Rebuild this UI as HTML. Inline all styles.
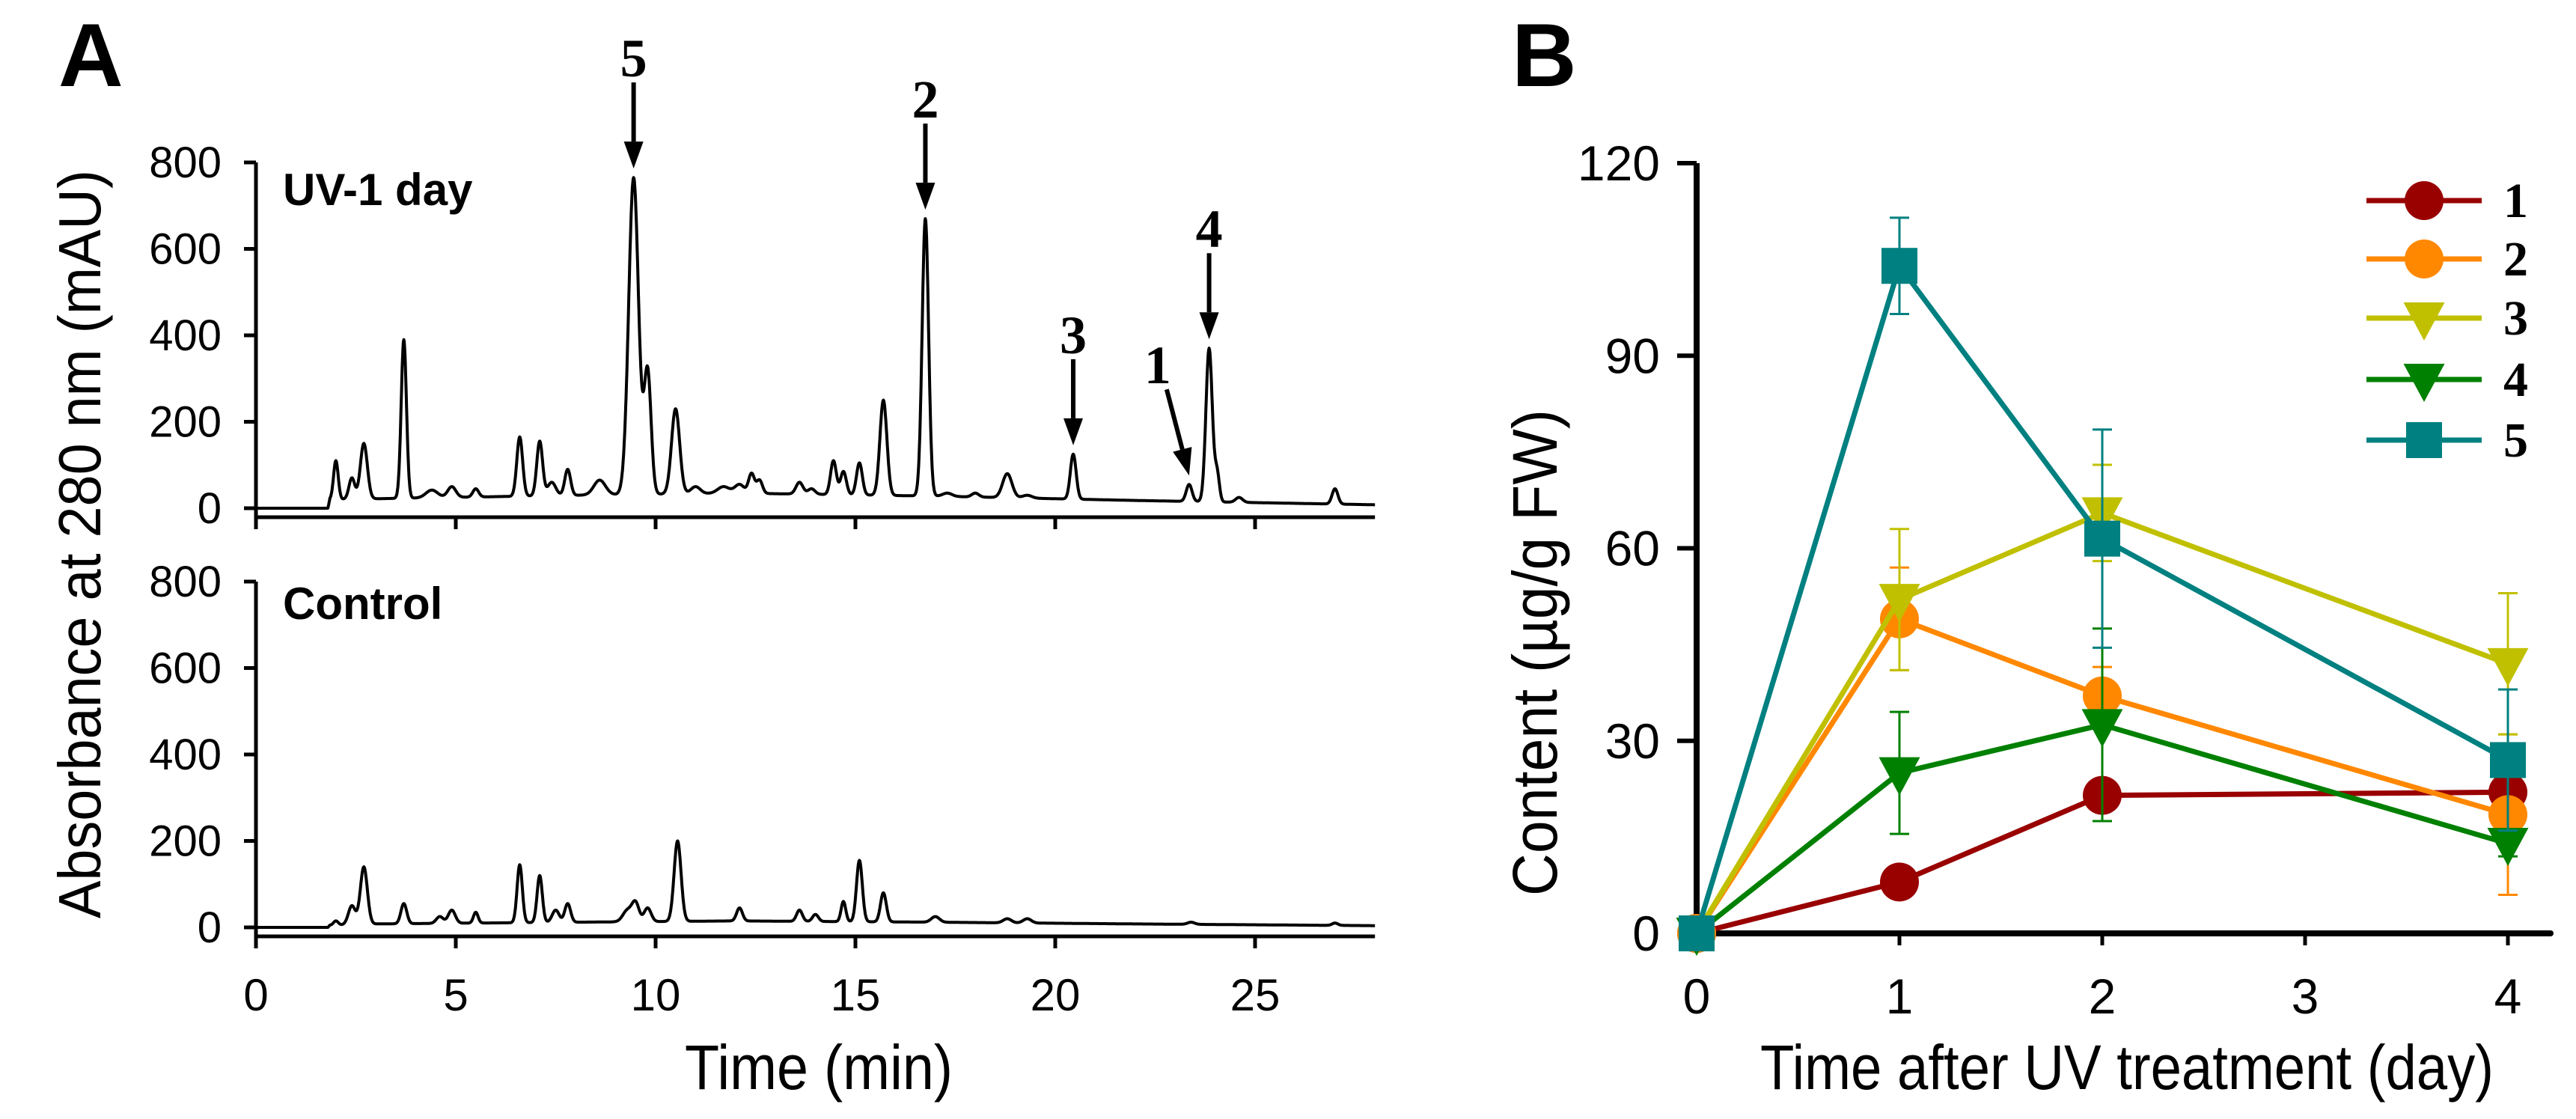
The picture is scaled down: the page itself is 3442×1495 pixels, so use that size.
<!DOCTYPE html>
<html><head><meta charset="utf-8"><style>
html,body{margin:0;padding:0;background:#fff}
svg{display:block}
text{font-family:"Liberation Sans",sans-serif}
.serif{font-family:"Liberation Serif",serif;font-weight:bold}
</style></head><body>
<svg id="fig" width="3442" height="1495" viewBox="0 0 3442 1495" xmlns="http://www.w3.org/2000/svg">
<g id="panelA"></g>
<g id="panelB"></g>
</svg>
<script>
// ---------- Panel A data ----------
const timeTicks = [0,5,10,15,20,25];
const absTicks = [0,200,400,600,800];
const uvPeakTimes   = [2.0,2.4,2.7,3.7,4.4,4.9,5.5,6.6,7.1,7.4,7.8,8.6,9.45,9.8,10.5,11.0,11.7,12.1,12.4,12.6,13.6,13.9,14.45,14.7,15.1,15.7,16.75,17.3,18.0,18.8,19.3,20.45,23.35,23.85,24.05,24.6,27.0];
const uvPeakHeights = [110,70,150,390,42,50,45,165,155,60,90,65,765,315,230,50,50,55,80,65,60,45,110,85,105,250,670,35,35,80,30,125,55,370,80,25,45];
const uvPeakWidths  = [0.04,0.05,0.06,0.045,0.1,0.07,0.05,0.05,0.05,0.07,0.05,0.1,0.085,0.06,0.07,0.08,0.1,0.08,0.05,0.05,0.06,0.06,0.05,0.05,0.05,0.06,0.055,0.08,0.06,0.08,0.08,0.05,0.05,0.055,0.04,0.06,0.05];
const uvBaseT = [0,1.8,1.85,3,8,12,17,22,28];
const uvBaseV = [0,0,20,22,30,35,28,18,8];
const ctPeakTimes   = [2.0,2.4,2.7,3.7,4.6,4.9,5.5,6.6,7.1,7.5,7.8,9.3,9.5,9.8,10.55,12.1,13.6,14.0,14.7,15.1,15.7,17.0,18.8,19.3,23.4,27.0];
const ctPeakHeights = [15,50,140,55,25,40,35,145,120,40,55,40,55,45,200,45,40,30,60,155,80,25,20,20,12,10];
const ctPeakWidths  = [0.04,0.06,0.06,0.05,0.06,0.06,0.04,0.045,0.045,0.06,0.05,0.08,0.06,0.06,0.06,0.05,0.05,0.05,0.04,0.05,0.05,0.07,0.07,0.07,0.06,0.05];
const ctBaseT = [0,1.8,1.85,3,8,12,17,22,28];
const ctBaseV = [0,0,5,8,12,15,12,8,4];
const arrowLabels = ["5","2","3","1","4"];
const arrowTimes  = [9.45,16.75,20.45,23.35,23.85];

// ---------- Panel B data ----------
const days = [0,1,2,4];
const dayTicks = [0,1,2,3,4];
const contentTicks = [0,30,60,90,120];
const seriesNames = ["1","2","3","4","5"];
const s1 = [0,8,21.5,22];
const s2 = [0,49,37,18.5];
const s3 = [0,52,65.5,42];
const s4 = [0,25,32.5,14];
const s5 = [0,104,61.5,27];
const e1 = [0,1,1.5,1];
const e2 = [0,8,4.5,12.5];
const e3 = [0,11,7.5,11];
const e4 = [0,9.5,15,2];
const e5 = [0,7.5,17,11];

const NS = "http://www.w3.org/2000/svg";
const WIDTH_SCALE = 1.45;
function mk(parent, tag, attrs, txt){
  const el = document.createElementNS(NS, tag);
  for (const k in attrs) el.setAttribute(k, attrs[k]);
  if (txt !== undefined) el.textContent = txt;
  parent.appendChild(el);
  return el;
}
const A = document.getElementById('panelA');
const B = document.getElementById('panelB');

const ax0 = 342, pxPerMin = 53.4;
const xA = t => ax0 + t * pxPerMin;
const topZero = 679, botZero = 1239, pxPerMAU = 462/800;
const yTop = v => topZero - v * pxPerMAU;
const yBot = v => botZero - v * pxPerMAU;

function interp(ts, vs, t){
  for (let i=0;i<ts.length-1;i++){
    if (t>=ts[i] && t<=ts[i+1]) return vs[i] + (vs[i+1]-vs[i])*(t-ts[i])/(ts[i+1]-ts[i]);
  }
  return vs[vs.length-1];
}
function signal(pT,pH,pW,bT,bV,t){
  let v = interp(bT,bV,t);
  for (let i=0;i<pT.length;i++){
    const amp = pH[i] - interp(bT,bV,pT[i]);
    const s = pW[i]*WIDTH_SCALE;
    v += amp*Math.exp(-Math.pow(t-pT[i],2)/(2*s*s));
  }
  return v;
}
function trace(pT, pH, pW, bT, bV, yf){
  let d = "";
  for (let t=0; t<=28.0001; t+=0.01){
    const v = signal(pT,pH,pW,bT,bV,t);
    d += (d?"L":"M") + xA(t).toFixed(1) + "," + yf(v).toFixed(1);
  }
  return d;
}

function panelAxes(yf, axisY, name){
  const g = mk(A,'g',{});
  
  
  const yl = mk(g,'line',{x1:ax0,y1:yf(800),x2:ax0,y2:axisY+16,stroke:'#000','stroke-width':5});
  
  
  const xl = mk(g,'line',{x1:ax0,y1:axisY,x2:xA(28),y2:axisY,stroke:'#000','stroke-width':5});
  
  
  absTicks.forEach(v=>{
    const tk = mk(g,'line',{x1:ax0-16,y1:yf(v),x2:ax0,y2:yf(v),stroke:'#000','stroke-width':5});
    
    
    const lb = mk(g,'text',{x:296,y:yf(v)+20,'font-size':58,'text-anchor':'end'},String(v));
    
    
  });
  timeTicks.forEach(t=>{
    const tk = mk(g,'line',{x1:xA(t),y1:axisY,x2:xA(t),y2:axisY+16,stroke:'#000','stroke-width':5});
    
    
  });
}
panelAxes(yTop, 691, 'uv-panel-axes');
panelAxes(yBot, 1251, 'control-panel-axes');

timeTicks.forEach(t=>{
  const lb = mk(A,'text',{x:xA(t),y:1350,'font-size':60,'text-anchor':'middle'},String(t));
  
  
});

const uvPath = mk(A,'path',{d:trace(uvPeakTimes,uvPeakHeights,uvPeakWidths,uvBaseT,uvBaseV,yTop),fill:'none',stroke:'#000','stroke-width':4,'stroke-linejoin':'round'});


const ctPath = mk(A,'path',{d:trace(ctPeakTimes,ctPeakHeights,ctPeakWidths,ctBaseT,ctBaseV,yBot),fill:'none',stroke:'#000','stroke-width':4,'stroke-linejoin':'round'});



arrowLabels.forEach((lab,i)=>{
  const t = arrowTimes[i];
  const tipX = xA(t), tipY = yTop(signal(uvPeakTimes,uvPeakHeights,uvPeakWidths,uvBaseT,uvBaseV,t)) - 12;
  const diag = lab === "1";
  const sx = diag ? tipX - 30 : tipX, sy = tipY - 115;
  const g = mk(A,'g',{});
  
  
  const ang = Math.atan2(tipY-sy, tipX-sx);
  const hl = 36, hw = 13;
  const bx = tipX - hl*Math.cos(ang), by = tipY - hl*Math.sin(ang);
  mk(g,'line',{x1:sx,y1:sy,x2:bx,y2:by,stroke:'#000','stroke-width':6});
  const px = -Math.sin(ang)*hw, py = Math.cos(ang)*hw;
  mk(g,'polygon',{points:`${tipX},${tipY} ${bx+px},${by+py} ${bx-px},${by-py}`,fill:'#000'});
  const lx = diag ? sx - 12 : sx, ly = sy - 8;
  const tx = mk(g,'text',{x:lx,y:ly,'font-size':72,'text-anchor':'middle',class:'serif'},lab);
  
  
});

let t;
t = mk(A,'text',{x:378,y:274,'font-size':60,'font-weight':'bold'},'UV-1 day');
 
t = mk(A,'text',{x:378,y:827,'font-size':60,'font-weight':'bold'},'Control');
 
t = mk(A,'text',{x:1094,y:1455,'font-size':84,'text-anchor':'middle',textLength:358,lengthAdjust:'spacingAndGlyphs'},'Time (min)');
 
t = mk(A,'text',{x:0,y:0,'font-size':80,'text-anchor':'middle',textLength:1000,lengthAdjust:'spacingAndGlyphs',transform:'translate(134,727) rotate(-90)'},'Absorbance at 280 nm (mAU)');
 
t = mk(A,'text',{x:78,y:115,'font-size':120,'font-weight':'bold'},'A');
 

// ----- Panel B -----
const bx0 = 2267, pxPerDay = 271, bZero = 1247, pxPerUnit = (1247-218)/120;
const xB = d => bx0 + d*pxPerDay;
const yB = v => bZero - v*pxPerUnit;

let l = mk(B,'line',{x1:bx0,y1:yB(120),x2:bx0,y2:bZero+4,stroke:'#000','stroke-width':8});
 
l = mk(B,'line',{x1:bx0-4,y1:bZero,x2:3408,y2:bZero,stroke:'#000','stroke-width':8,'stroke-linecap':'round'});
 
contentTicks.forEach(v=>{
  const tk = mk(B,'line',{x1:bx0-26,y1:yB(v),x2:bx0,y2:yB(v),stroke:'#000','stroke-width':6});
   
  const lb = mk(B,'text',{x:2218,y:yB(v)+23,'font-size':66,'text-anchor':'end'},String(v));
   
});
dayTicks.forEach(d=>{
  const tk = mk(B,'line',{x1:xB(d),y1:bZero,x2:xB(d),y2:bZero+16,stroke:'#000','stroke-width':5});
   
  const lb = mk(B,'text',{x:xB(d),y:1354,'font-size':66,'text-anchor':'middle'},String(d));
   
});

const vals = [s1,s2,s3,s4,s5];
const errs = [e1,e2,e3,e4,e5];
const colors = ['#990000','#ff8800','#c0c000','#008000','#008080'];
const shapes = ['circle','circle','down','down','square'];

function marker(g, shape, cx, cy, col, sz){
  if (shape==='circle') return mk(g,'circle',{cx:cx,cy:cy,r:sz*0.52,fill:col});
  if (shape==='square') return mk(g,'rect',{x:cx-sz*0.48,y:cy-sz*0.48,width:sz*0.96,height:sz*0.96,fill:col});
  return mk(g,'polygon',{points:`${cx-sz*0.55},${cy-sz*0.42} ${cx+sz*0.55},${cy-sz*0.42} ${cx},${cy+sz*0.6}`,fill:col});
}

vals.forEach((vs,si)=>{
  const g = mk(B,'g',{});
  
  
  errs[si].forEach((e,i)=>{
    if (e<=0) return;
    const x = xB(days[i]);
    mk(g,'path',{d:`M${x},${yB(vs[i]+e)}V${yB(vs[i]-e)}M${x-13},${yB(vs[i]+e)}h26M${x-13},${yB(vs[i]-e)}h26`,stroke:colors[si],'stroke-width':3,fill:'none'});
  });
  const d = vs.map((v,i)=>(i?'L':'M')+xB(days[i])+','+yB(v)).join('');
  const ln = mk(g,'path',{d:d,fill:'none',stroke:colors[si],'stroke-width':7,'stroke-linejoin':'round'});
  
  
  vs.forEach((v,i)=>{
    const m = marker(g, shapes[si], xB(days[i]), yB(v), colors[si], 50);
    
    
  });
});

const legY = [268,346,425,507,588];
seriesNames.forEach((n,i)=>{
  const g = mk(B,'g',{});
  
  
  mk(g,'line',{x1:3162,y1:legY[i],x2:3316,y2:legY[i],stroke:colors[i],'stroke-width':7});
  marker(g, shapes[i], 3239, legY[i], colors[i], 50);
  mk(g,'text',{x:3345,y:legY[i]+22,'font-size':66,class:'serif'},n);
});

t = mk(B,'text',{x:2842,y:1455,'font-size':84,'text-anchor':'middle',textLength:980,lengthAdjust:'spacingAndGlyphs'},'Time after UV treatment (day)');
 
t = mk(B,'text',{x:0,y:0,'font-size':84,'text-anchor':'middle',textLength:650,lengthAdjust:'spacingAndGlyphs',transform:'translate(2080,872) rotate(-90)'},'Content (µg/g FW)');
 
t = mk(B,'text',{x:2020,y:115,'font-size':120,'font-weight':'bold'},'B');
 
</script>
</body></html>
